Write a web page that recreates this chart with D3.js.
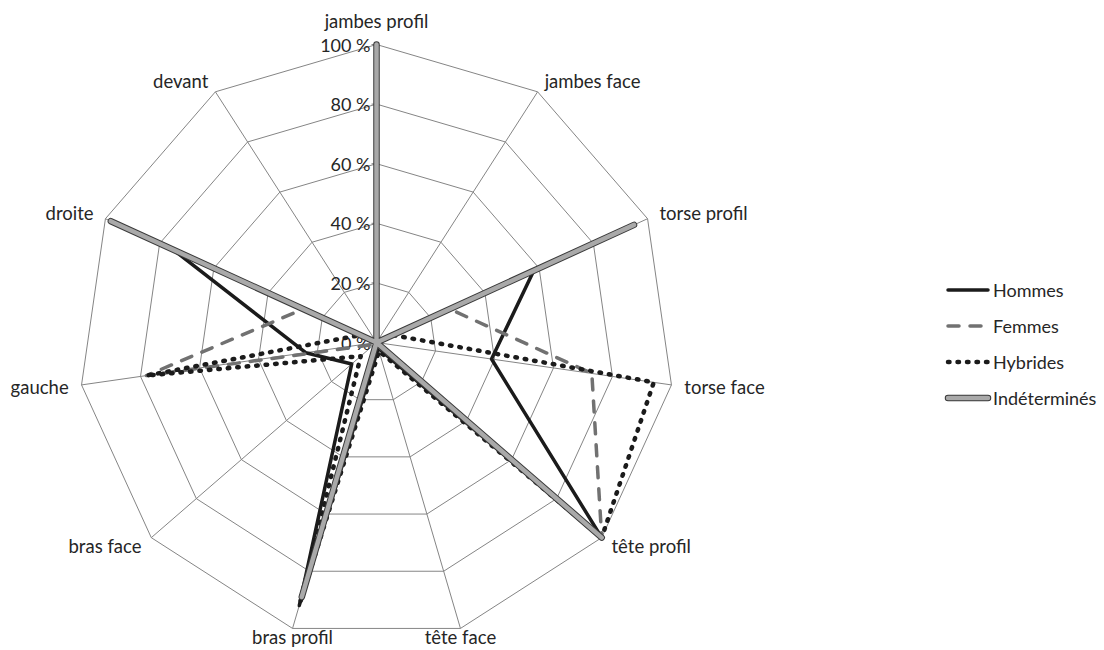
<!DOCTYPE html>
<html>
<head>
<meta charset="utf-8">
<script src="https://cdn.jsdelivr.net/npm/d3@7"></script>
<style>
  html, body { margin: 0; padding: 0; background: #fff; }
  svg { display: block; font-family: Lato, "Open Sans", sans-serif; }
</style>
</head>
<body>
<svg id="chart" width="1104" height="650"></svg>
<script>
const categories = ["jambes profil","jambes face","torse profil","torse face","tête profil","tête face","bras profil","bras face","gauche","droite","devant"];
const hommes       = [0, 0, 58, 39, 100, 2, 92, 11, 24, 75, 0];
const femmes       = [0, 0, 27, 73, 100, 1, 1, 1, 78, 27, 0];
const hybrides     = [0, 0, 6, 94, 100, 3, 91, 7, 78, 6, 0];
const indetermines = [100, 0, 95, 0, 100, 0, 89, 0, 0, 98, 0];
const tickValues = [0, 20, 40, 60, 80, 100];
const tickLabels = ["0 %", "20 %", "40 %", "60 %", "80 %", "100 %"];
const seriesNames = ["Hommes", "Femmes", "Hybrides", "Indéterminés"];

const svg = d3.select("#chart");
const cx = 376.5, cy = 342.5, R = 298;
const n = categories.length;
const ang = d3.scaleLinear().domain([0, n]).range([0, 2 * Math.PI]);
const rad = d3.scaleLinear().domain([0, 100]).range([0, R]);
const pt = (i, v) => [cx + rad(v) * Math.sin(ang(i)), cy - rad(v) * Math.cos(ang(i))];

const gridColor = "#858585";
const g = svg.append("g");

// rings
tickValues.filter(t => t > 0).forEach(t => {
  const pts = categories.map((c, i) => pt(i, t));
  g.append("path")
    .attr("d", d3.line()(pts) + "Z")
    .attr("fill", "none").attr("stroke", gridColor).attr("stroke-width", 1);
});
// spokes
categories.forEach((c, i) => {
  const [x, y] = pt(i, 100);
  g.append("line").attr("x1", cx).attr("y1", cy).attr("x2", x).attr("y2", y)
    .attr("stroke", gridColor).attr("stroke-width", 1);
});
// ticks + tick labels on first axis
tickValues.forEach((t, k) => {
  const y = cy - rad(t);
  g.append("line").attr("x1", cx - 5).attr("x2", cx).attr("y1", y).attr("y2", y)
    .attr("stroke", gridColor).attr("stroke-width", 1);
  g.append("text").attr("x", cx - 6).attr("y", y).attr("text-anchor", "end")
    .attr("dominant-baseline", "central").attr("font-size", 18).attr("fill", "#262626")
    .text(tickLabels[k]);
});
// category labels
categories.forEach((c, i) => {
  const s = Math.sin(ang(i)), co = Math.cos(ang(i));
  const [vx, vy] = pt(i, 100);
  const off = 13;
  let x, y, anchor;
  if (Math.abs(s) < 0.35) {
    anchor = "middle";
    x = vx;
    y = co > 0.9 ? vy - 24 : vy + 9;
  } else {
    anchor = s > 0 ? "start" : "end";
    x = vx + off * s;
    y = vy - off * co;
  }
  g.append("text").attr("x", x).attr("y", y).attr("text-anchor", anchor)
    .attr("dominant-baseline", "central").attr("font-size", 18.5).attr("fill", "#262626")
    .text(c);
});

const lineGen = d3.line();
const closed = vals => lineGen(vals.map((v, i) => pt(i, v))) + "Z";

const styles = [
  {data: hommes, stroke: "#1b1b1b", width: 3.5, dash: null},
  {data: femmes, stroke: "#717171", width: 3.5, dash: "11,11"},
  {data: hybrides, stroke: "#1b1b1b", width: 4.5, dash: "1.5,8"},
];
styles.forEach(st => {
  svg.append("path").attr("d", closed(st.data)).attr("fill", "none")
    .attr("stroke", st.stroke).attr("stroke-width", st.width)
    .attr("stroke-linejoin", "round").attr("stroke-linecap", "round")
    .attr("stroke-dasharray", st.dash);
});
// Indéterminés: gray with dark outline
svg.append("path").attr("d", closed(indetermines)).attr("fill", "none")
  .attr("stroke", "#3a3a3a").attr("stroke-width", 6.5)
  .attr("stroke-linejoin", "round").attr("stroke-linecap", "round");
svg.append("path").attr("d", closed(indetermines)).attr("fill", "none")
  .attr("stroke", "#a9a9a9").attr("stroke-width", 4.5)
  .attr("stroke-linejoin", "round").attr("stroke-linecap", "round");

// legend
const lg = svg.append("g");
const lx0 = 946, lx1 = 990, ly0 = 290, ldy = 36;
seriesNames.forEach((name, k) => {
  const y = ly0 + k * ldy;
  if (k < 3) {
    const st = styles[k];
    lg.append("line").attr("x1", lx0 + 2).attr("x2", lx1 - 2).attr("y1", y).attr("y2", y)
      .attr("stroke", st.stroke).attr("stroke-width", st.width)
      .attr("stroke-linecap", "round").attr("stroke-dasharray", st.dash);
  } else {
    lg.append("line").attr("x1", lx0 + 2).attr("x2", lx1 - 2).attr("y1", y).attr("y2", y)
      .attr("stroke", "#3a3a3a").attr("stroke-width", 6.5).attr("stroke-linecap", "round");
    lg.append("line").attr("x1", lx0 + 2).attr("x2", lx1 - 2).attr("y1", y).attr("y2", y)
      .attr("stroke", "#a9a9a9").attr("stroke-width", 4.5).attr("stroke-linecap", "round");
  }
  lg.append("text").attr("x", lx1 + 3).attr("y", y).attr("dominant-baseline", "central")
    .attr("font-size", 18).attr("fill", "#262626").text(name);
});
</script>
</body>
</html>
